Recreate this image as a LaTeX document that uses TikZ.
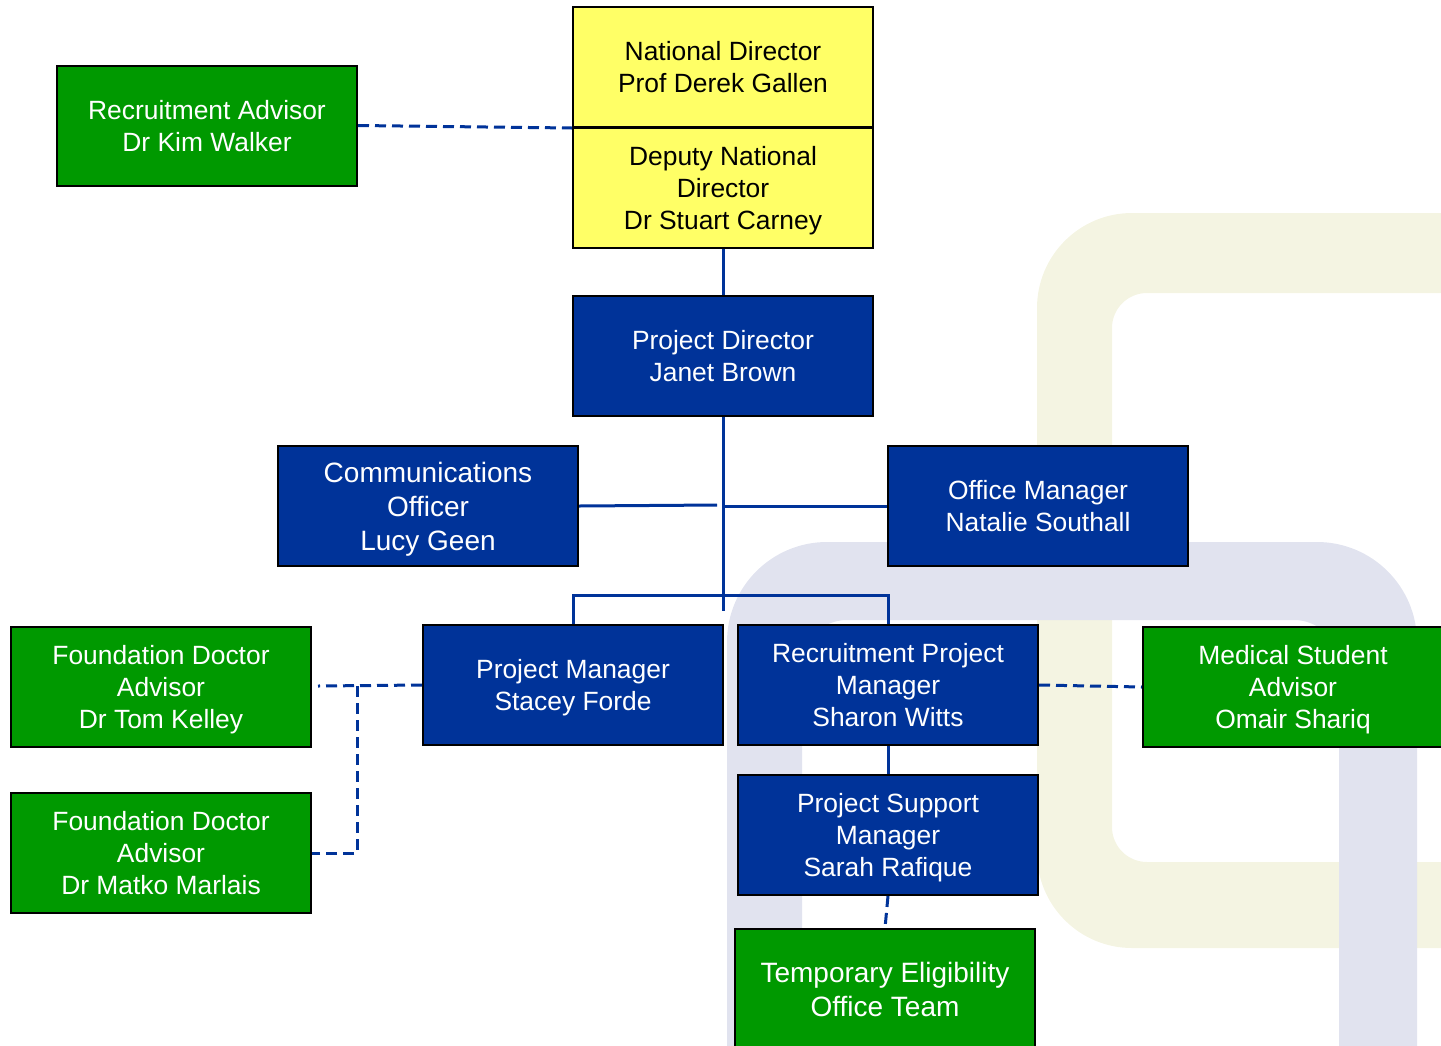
\documentclass[tikz,border=0pt]{standalone}
\usepackage{fontspec}
\setmainfont{Liberation Sans}
\definecolor{ylbox}{HTML}{FFFF66}
\definecolor{grbox}{HTML}{009900}
\definecolor{blbox}{HTML}{003399}
\definecolor{ylbg}{HTML}{F4F4E2}
\definecolor{lvbg}{HTML}{E1E3EF}
\definecolor{conn}{HTML}{003399}
\tikzset{
  box/.style={draw=black, line width=2pt, minimum width=300pt, minimum height=120pt,
    inner sep=0pt, align=center, text depth=0pt, font=\fontsize{26.4}{32}\selectfont},
  bigtext/.style={font=\fontsize{28}{34}\selectfont},
  ybox/.style={box, fill=ylbox, text=black},
  gbox/.style={box, fill=grbox, text=white},
  bbox/.style={box, fill=blbox, text=white},
  solidline/.style={draw=conn, line width=3pt},
  dashline/.style={draw=conn, line width=3pt, dash pattern=on 11pt off 6pt},
}
\begin{document}
\begin{tikzpicture}[x=1pt,y=-1pt]
\path[use as bounding box] (0,0) rectangle (1441,1045);
\begin{scope}
\clip (0,0) rectangle (1441,1045);
% background rings
\fill[ylbg, even odd rule] [rounded corners=95pt] (1037,213) rectangle (1700,948)
  [rounded corners=35pt] (1112,293) rectangle (1650,862);
\fill[lvbg, even odd rule] [rounded corners=100pt] (727,542) rectangle (1417,1250)
  [rounded corners=45pt] (802,620) rectangle (1339,1200);
% boxes
\node[ybox] (nd) at (723,67) {National Director\\Prof Derek Gallen};
\node[ybox] (dnd) at (723,188) {Deputy National\\Director\\Dr Stuart Carney};
\node[gbox] (ra) at (207,125.5) {Recruitment Advisor\\Dr Kim Walker};
\node[bbox] (pd) at (723,356) {Project Director\\Janet Brown};
\node[bbox, bigtext] (co) at (428,506) {Communications\\Officer\\Lucy Geen};
\node[bbox] (om) at (1038,506) {Office Manager\\Natalie Southall};
\node[bbox] (pm) at (573,685) {Project Manager\\Stacey Forde};
\node[bbox] (rpm) at (888,685) {Recruitment Project\\Manager\\Sharon Witts};
\node[gbox] (msa) at (1293,687) {Medical Student\\Advisor\\Omair Shariq};
\node[gbox] (fd1) at (161,687) {Foundation Doctor\\Advisor\\Dr Tom Kelley};
\node[gbox] (fd2) at (161,853) {Foundation Doctor\\Advisor\\Dr Matko Marlais};
\node[bbox] (psm) at (888,835) {Project Support\\Manager\\Sarah Rafique};
\node[gbox, bigtext] (tet) at (885,989) {Temporary Eligibility\\Office Team};
% connector points
\coordinate (trunk) at (723,611);
\coordinate (cogap) at (717,505);
\coordinate (omj) at (723,506);
\coordinate (bar) at (723,595);
\coordinate (fdend) at (318,686);
\coordinate (fdv) at (357,686);
% solid connectors
\draw[solidline] (dnd.south) -- (pd.north);
\draw[solidline] (pd.south) -- (trunk);
\draw[solidline] (co.east) -- (cogap);
\draw[solidline] (omj) -- (om.west);
\draw[solidline] (pm.north) -- (pm.north |- bar) -- (rpm.north |- bar) -- (rpm.north);
\draw[solidline] (rpm.south) -- (psm.north);
% dashed connectors
\draw[dashline] (ra.east) -- (nd.south west);
\draw[dashline] (rpm.east) -- (msa.west);
\draw[dashline] (psm.south) -- (tet.north);
\draw[dashline] (pm.west) -- (fdend);
\draw[dashline] (fdv) |- (fd2.east);
\end{scope}
\end{tikzpicture}
\end{document}
